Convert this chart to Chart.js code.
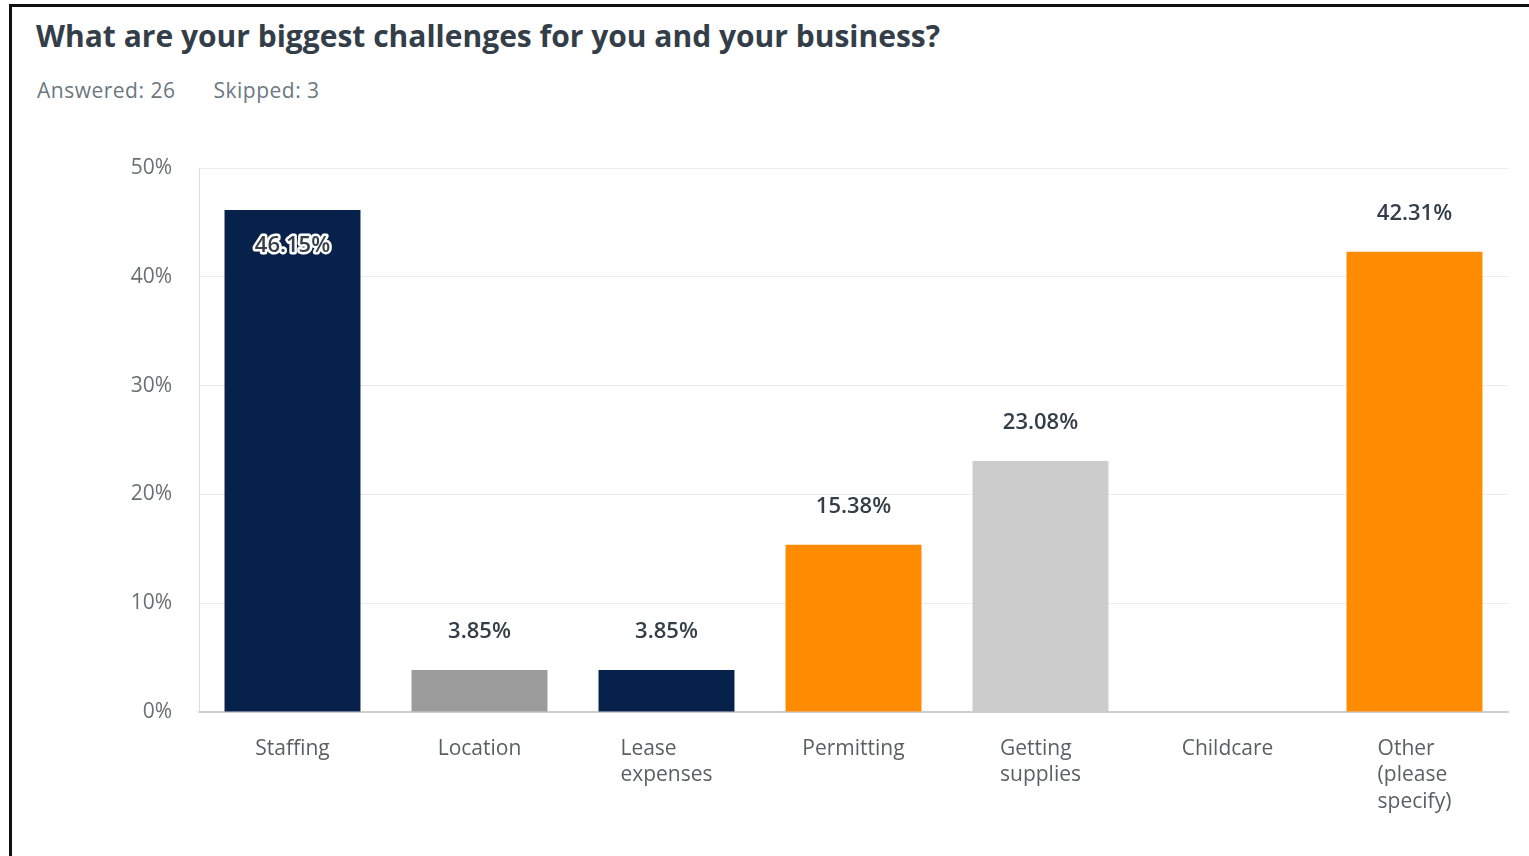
<!DOCTYPE html>
<html>
<head>
<meta charset="utf-8">
<script src="https://cdn.jsdelivr.net/npm/chart.js@4.4.1/dist/chart.umd.min.js"></script>
<style>
    html, body { margin: 0; padding: 0; background: #fff; overflow: hidden; }
    body { width: 1529px; height: 856px; position: relative; font-family: "Open Sans", Roboto, sans-serif; }
    .frame { position: absolute; left: 9px; top: 4px; width: 1600px; height: 900px; border-left: 3px solid #111; border-top: 3px solid #111; box-sizing: border-box; }
    h1 { position: absolute; left: 36px; top: 16px; margin: 0; font-size: 30px; line-height: 40px; font-weight: 700; color: #333e48; white-space: nowrap; }
    .meta { position: absolute; left: 37px; top: 75px; font-size: 21px; line-height: 30px; letter-spacing: 0.5px; color: #6b787f; white-space: nowrap; }
    .meta span { margin-right: 38px; }
    #chartWrap { position: absolute; left: 0; top: 0; width: 1529px; height: 856px; }
</style>
</head>
<body>
<div class="frame"></div>
<h1>What are your biggest challenges for you and your business?</h1>
<div class="meta"><span>Answered: 26</span><span>Skipped: 3</span></div>
<div id="chartWrap"><canvas id="barChart" width="1529" height="856"></canvas></div>

<script>
const categorias = [
    ['Staffing'],
    ['Location'],
    ['Lease', 'expenses'],
    ['Permitting'],
    ['Getting', 'supplies'],
    ['Childcare'],
    ['Other', '(please', 'specify)']
];
const valores = [46.15, 3.85, 3.85, 15.38, 23.08, 0, 42.31];
const cores = ['#06214a', '#9b9b9b', '#06214a', '#ff8b00', '#cccccc', '#06214a', '#ff8b00'];
const ticksY = [0, 10, 20, 30, 40, 50];

const fonte = '"Open Sans", Roboto, sans-serif';

// rótulos de valor em cima das barras
const rotulosPlugin = {
    id: 'rotulos',
    afterDatasetsDraw(chart) {
        const c = chart.ctx;
        const meta = chart.getDatasetMeta(0);
        const maior = Math.max(...valores);
        c.save();
        c.font = '600 22px ' + fonte;
        c.textAlign = 'center';
        c.textBaseline = 'middle';
        meta.data.forEach(function(bar, i) {
            const v = valores[i];
            if (!v) return;
            const txt = v.toFixed(2) + '%';
            if (v === maior) {
                const y = bar.y + 36;
                c.lineJoin = 'round';
                c.lineWidth = 5;
                c.strokeStyle = '#ffffff';
                c.strokeText(txt, bar.x, y);
                c.fillStyle = '#333e48';
                c.fillText(txt, bar.x, y);
            } else {
                c.fillStyle = '#333e48';
                c.fillText(txt, bar.x, bar.y - 38);
            }
        });
        c.restore();
    }
};

// rótulos do eixo x alinhados à esquerda dentro do bloco
const eixoXPlugin = {
    id: 'eixoX',
    afterDraw(chart) {
        const c = chart.ctx;
        const x = chart.scales.x;
        c.save();
        c.font = '21px ' + fonte;
        c.fillStyle = '#5a5f63';
        c.textBaseline = 'middle';
        c.textAlign = 'left';
        categorias.forEach(function(linhas, i) {
            const cx = x.getPixelForValue(i);
            const larg = Math.max(...linhas.map(l => c.measureText(l).width));
            linhas.forEach(function(l, j) {
                c.fillText(l, cx - larg / 2, x.top + 37 + j * 26.5);
            });
        });
        c.restore();
    }
};

const ctx = document.getElementById('barChart').getContext('2d');
const barChart = new Chart(ctx, {
    type: 'bar',
    data: {
        labels: categorias.map(l => l.join(' ')),
        datasets: [{
            data: valores,
            backgroundColor: cores,
            borderWidth: 0,
            categoryPercentage: 1,
            barPercentage: 0.727
        }]
    },
    options: {
        responsive: false,
        animation: false,
        layout: { padding: { top: 168, right: 21, bottom: 0, left: 0 } },
        plugins: {
            legend: { display: false },
            tooltip: { enabled: false }
        },
        scales: {
            x: {
                grid: { display: false, drawTicks: false },
                border: { color: '#cfcfcf', width: 2 },
                ticks: { display: false },
                afterFit: function(s) { s.height = 144; }
            },
            y: {
                min: 0,
                max: 50,
                afterBuildTicks: function(s) { s.ticks = ticksY.map(v => ({ value: v })); },
                grid: { color: '#ececec', drawTicks: false },
                border: { color: '#dcdcdc', width: 1 },
                ticks: {
                    padding: 27,
                    color: '#6b6f72',
                    font: { family: fonte, size: 21 },
                    callback: function(v) { return v + '%'; }
                },
                afterFit: function(s) { s.width = 199; }
            }
        }
    },
    plugins: [rotulosPlugin, eixoXPlugin]
});
</script>
</body>
</html>
